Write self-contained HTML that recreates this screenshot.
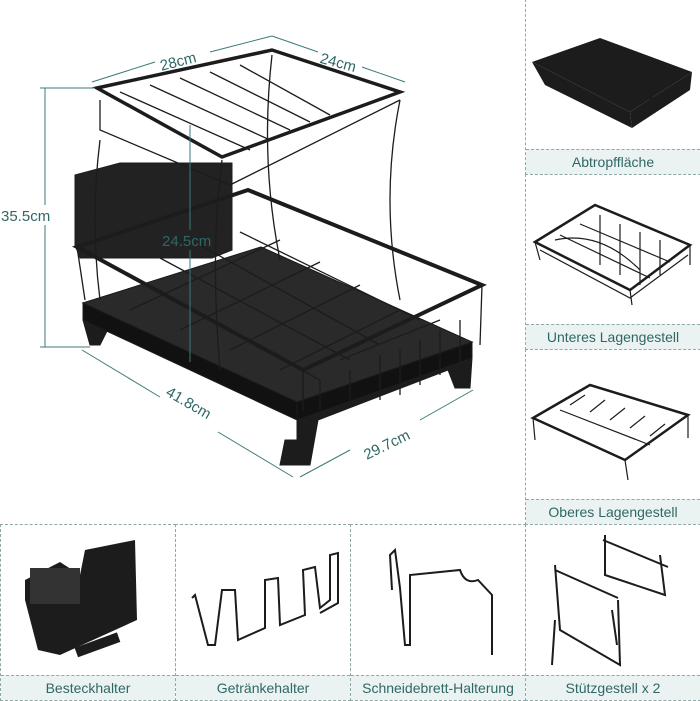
<!DOCTYPE html>
<html><head><meta charset="utf-8"><style>
body{margin:0;width:700px;height:700px;background:#fff;overflow:hidden;font-family:"Liberation Sans",sans-serif;position:relative}
.p{position:absolute;border:1px dashed #8fa9a8;box-sizing:border-box}
.l{position:absolute;left:0;right:0;bottom:0;height:24px;background:#eaf3f1;color:#2f6766;font-size:14px;text-align:center;line-height:24px;border-top:1px dashed #8fa9a8}
svg{position:absolute;left:0;top:0}
</style></head><body>
<div class="p" style="left:525px;top:-1px;width:176px;height:176px"><div class="l">Abtropffläche</div></div>
<div class="p" style="left:525px;top:174px;width:176px;height:176px"><div class="l">Unteres Lagengestell</div></div>
<div class="p" style="left:525px;top:349px;width:176px;height:176px"><div class="l">Oberes Lagengestell</div></div>
<div class="p" style="left:0;top:524px;width:176px;height:177px"><div class="l">Besteckhalter</div></div>
<div class="p" style="left:175px;top:524px;width:176px;height:177px"><div class="l">Getränkehalter</div></div>
<div class="p" style="left:350px;top:524px;width:176px;height:177px"><div class="l">Schneidebrett-Halterung</div></div>
<div class="p" style="left:525px;top:524px;width:176px;height:177px"><div class="l">Stützgestell x 2</div></div>
<svg width="700" height="700" viewBox="0 0 700 700">
<g fill="#1c1c1c" stroke="#1c1c1c">
<polygon points="83,303 261,247 472,342 297,402 297,440 285,440 280,465 310,465 318,420 448,370 455,388 470,388 472,358 472,342 297,402 83,303 83,320 90,345 100,345 110,325 297,410"/>
<polygon points="83,303 261,247 472,342 297,402" fill="#2a2a2a"/>
<polygon points="297,402 472,342 472,358 297,420" fill="#111"/>
<polygon points="83,303 297,402 297,420 83,320" fill="#111"/>
<polygon points="75,175 120,163 232,163 232,250 212,258 80,258 75,245" fill="#222"/>
</g>
<g fill="none" stroke="#1c1c1c" stroke-width="4">
<polygon points="77,247 248,190 482,285 303,370"/>
<polygon points="97,88 272,50 400,92 222,157" stroke-width="3.5"/>
</g>
<g fill="none" stroke="#1c1c1c" stroke-width="1.3">
<path d="M100,100 L100,130 L230,185 L400,100 M120,92 L250,150 M150,85 L270,140 M180,78 L290,130 M210,72 L310,122 M240,65 L330,115 M100,140 Q90,220 100,300 M400,100 Q380,200 400,300 M272,55 Q260,160 280,260 M222,160 Q210,250 220,370 M303,370 L303,410 M482,285 L480,345 M77,247 L85,300"/>
<path d="M120,270 L320,380 M160,258 L350,360 M200,245 L380,345 M240,232 L420,320 M130,310 L280,240 M180,330 L320,262 M230,350 L360,285 M280,370 L400,310 M340,360 L440,320 M380,355 L380,400 M420,340 L420,385 M350,370 L350,405 M320,380 L320,410 M440,330 L440,375 M460,320 L460,365 M400,350 L400,395"/>
</g>
<g stroke="#3d7a78" stroke-width="1" fill="none">
<line x1="92" y1="82" x2="155" y2="62"/><line x1="210" y1="52" x2="272" y2="36"/>
<line x1="272" y1="36" x2="318" y2="52"/><line x1="362" y1="67" x2="405" y2="82"/>
<line x1="45" y1="88" x2="45" y2="205"/><line x1="45" y1="225" x2="45" y2="347"/>
<line x1="40" y1="88" x2="95" y2="88"/><line x1="40" y1="347" x2="90" y2="347"/>
<line x1="190" y1="125" x2="190" y2="230"/><line x1="190" y1="250" x2="190" y2="362"/>
<line x1="82" y1="350" x2="160" y2="397"/><line x1="218" y1="432" x2="293" y2="477"/>
<line x1="300" y1="477" x2="350" y2="450"/><line x1="420" y1="420" x2="473" y2="390"/>
</g>
<g fill="#2f6766" font-size="15" font-family="Liberation Sans,sans-serif">
<text x="160" y="66" transform="rotate(-14 180 62)">28cm</text>
<text x="320" y="68" transform="rotate(15 340 62)">24cm</text>
<text x="1" y="221">35.5cm</text>
<text x="162" y="246">24.5cm</text>
<text x="160" y="407" transform="rotate(30 185 410)">41.8cm</text>
<text x="360" y="450" transform="rotate(-26 385 440)">29.7cm</text>
</g>
<g fill="#1c1c1c">
<polygon points="532,62 600,38 692,72 630,112"/>
<polygon points="532,62 630,112 632,128 545,85"/>
<polygon points="630,112 692,72 690,90 632,128"/>
<rect x="650" y="95" width="20" height="8" transform="rotate(-20 660 99)"/>
</g>
<g fill="none" stroke="#1c1c1c" stroke-width="1.2">
<polygon points="535,242 595,205 690,245 630,290" stroke-width="2.5"/>
<path d="M540,250 L630,298 L688,255 M560,235 L650,278 M580,224 L670,262 M555,240 Q600,230 640,270 M630,290 L632,305 M690,245 L690,265 M535,242 L540,260 M600,215 L600,265 M620,224 L620,275 M640,232 L640,285 M660,240 L660,275"/>
<polygon points="533,418 590,385 688,415 625,460" stroke-width="2.5"/>
<path d="M560,410 L650,445 M570,405 L585,395 M590,412 L605,400 M610,420 L625,408 M630,428 L645,416 M650,436 L665,424 M625,460 L628,480 M533,418 L535,440 M688,415 L688,438"/>
</g>
<g fill="#1c1c1c">
<polygon points="25,580 60,562 80,575 85,550 135,540 137,620 60,655 38,650 25,600"/>
<rect x="30" y="568" width="50" height="36" fill="#333"/>
<rect x="75" y="640" width="45" height="10" transform="rotate(-20 97 645)"/>
</g>
<g fill="none" stroke="#1c1c1c" stroke-width="2">
<path d="M192,598 L195,595 L208,645 L215,645 L222,590 L235,590 L238,640 L265,628 L265,580 L278,578 L280,625 L305,615 L303,570 L315,567 L320,608 L330,600 L330,555 L338,553 L338,603 L320,613"/>
<path d="M392,590 L390,555 L395,550 L400,588 L405,645 L410,645 L410,575 L460,570 Q465,585 478,580 L492,595 L492,655"/>
<path d="M605,535 L605,575 L665,595 L660,555 M603,540 L668,567 M555,565 L560,630 L620,665 L618,600 M555,570 L618,598 M612,610 L617,645 M555,620 L552,665"/>
</g>
</svg>
</body></html>
